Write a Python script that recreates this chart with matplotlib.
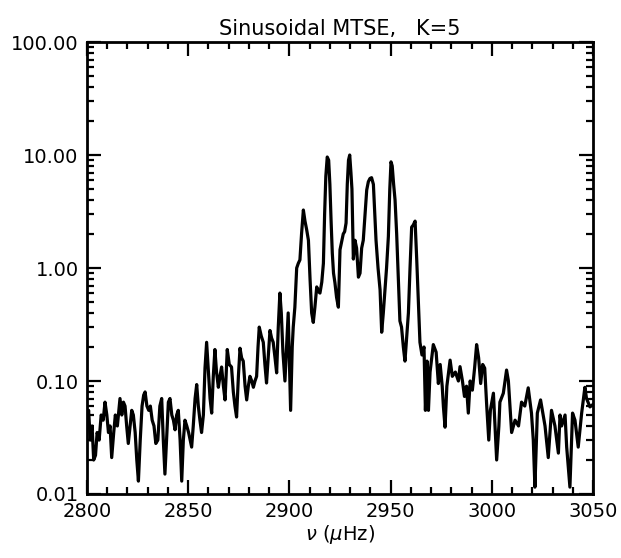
#power spectrum, sinusoidal multitaper estimate
import matplotlib
matplotlib.use('Agg')
import matplotlib.pyplot as plt
from matplotlib.ticker import FixedLocator, MultipleLocator, LogLocator, NullFormatter
import numpy as np

# frequency (muHz) and power
freq_lo = [2800.0, 2800.8, 2801.6, 2802.5, 2803.3, 2804.2, 2805.0, 2806.0, 2807.0, 2808.0,
           2808.9, 2809.8, 2810.6, 2811.4, 2812.2, 2813.2, 2814.0, 2815.0, 2816.3, 2817.2,
           2818.0, 2818.8, 2819.6, 2820.4, 2821.3, 2822.1, 2822.9, 2823.8, 2824.6, 2825.4,
           2826.3, 2827.2, 2828.0, 2828.7, 2829.6, 2830.5, 2831.3, 2832.2, 2833.1, 2834.0,
           2835.0, 2836.0, 2836.9, 2837.7, 2838.5, 2839.3, 2840.2, 2841.0, 2841.9, 2842.7,
           2843.5, 2844.3, 2845.1, 2846.0, 2846.8, 2847.6, 2848.4, 2849.3, 2850.2, 2851.0,
           2851.7, 2852.5, 2853.4, 2854.2, 2855.0, 2855.8, 2856.6, 2857.5, 2858.3, 2859.1]
pow_lo = [0.045, 0.055, 0.030, 0.040, 0.020, 0.022, 0.035, 0.030, 0.050, 0.045,
          0.065, 0.050, 0.035, 0.040, 0.021, 0.035, 0.050, 0.040, 0.070, 0.050,
          0.065, 0.060, 0.040, 0.028, 0.040, 0.055, 0.050, 0.035, 0.020, 0.013,
          0.030, 0.060, 0.075, 0.080, 0.060, 0.055, 0.060, 0.045, 0.040, 0.028,
          0.030, 0.060, 0.070, 0.030, 0.015, 0.030, 0.065, 0.070, 0.050, 0.045,
          0.037, 0.050, 0.055, 0.030, 0.013, 0.030, 0.045, 0.040, 0.035, 0.030,
          0.026, 0.040, 0.070, 0.093, 0.060, 0.045, 0.035, 0.050, 0.130, 0.220]

freq_mid = [2860.0, 2860.8, 2861.6, 2862.4, 2863.2, 2864.0, 2864.9, 2865.7, 2866.5, 2867.4,
            2868.2, 2869.3, 2870.3, 2871.4, 2872.3, 2873.1, 2873.9, 2874.8, 2875.6, 2876.4,
            2877.2, 2878.1, 2878.9, 2879.7, 2880.5, 2881.4, 2882.2, 2883.0, 2883.8, 2884.5,
            2885.1, 2886.1, 2887.1, 2887.9, 2888.7, 2889.5, 2890.4, 2891.2, 2892.0, 2892.9,
            2893.7, 2894.5, 2895.3, 2896.0, 2896.8, 2897.8, 2898.6, 2899.4, 2900.0, 2900.6,
            2901.4, 2901.9, 2902.7, 2903.6, 2904.4, 2905.2, 2906.0, 2906.9, 2907.7, 2908.5,
            2909.4, 2910.2, 2911.0, 2911.8, 2912.6, 2913.5, 2914.3, 2915.1, 2916.0, 2916.8,
            2917.4, 2918.0, 2918.7, 2919.4, 2920.0, 2920.6, 2921.2, 2921.8, 2922.5, 2923.3,
            2924.2, 2925.0, 2925.8, 2926.6, 2927.3, 2928.0, 2928.6, 2929.2, 2929.8, 2930.4,
            2930.9, 2931.6, 2932.4, 2933.2, 2934.1, 2934.9, 2935.7, 2936.5, 2937.4, 2938.2,
            2939.0, 2939.8, 2940.6, 2941.5, 2942.2, 2942.8, 2943.8, 2944.8, 2945.6, 2946.4,
            2947.2, 2948.0, 2948.9, 2949.6, 2950.2, 2950.8, 2951.5, 2952.2, 2953.0, 2953.8,
            2954.6, 2955.4, 2956.3, 2957.1, 2958.0, 2958.8, 2959.6, 2960.4, 2961.2, 2962.1,
            2962.9]
pow_mid = [0.120, 0.070, 0.052, 0.110, 0.190, 0.120, 0.088, 0.110, 0.133, 0.090,
           0.068, 0.190, 0.140, 0.133, 0.080, 0.060, 0.048, 0.110, 0.195, 0.160,
           0.150, 0.090, 0.068, 0.090, 0.110, 0.100, 0.088, 0.100, 0.110, 0.200,
           0.300, 0.250, 0.220, 0.140, 0.096, 0.160, 0.280, 0.240, 0.220, 0.160,
           0.118, 0.300, 0.600, 0.400, 0.180, 0.100, 0.200, 0.400, 0.150, 0.055,
           0.200, 0.300, 0.450, 1.000, 1.100, 1.180, 2.000, 3.260, 2.600, 2.200,
           1.760, 0.800, 0.400, 0.330, 0.450, 0.680, 0.620, 0.600, 0.750, 1.100,
           3.000, 6.500, 9.600, 9.000, 5.500, 2.600, 1.350, 0.900, 0.740, 0.550,
           0.450, 1.450, 1.700, 2.000, 2.100, 2.500, 5.500, 9.000, 10.00, 7.000,
           5.000, 1.200, 1.760, 1.500, 0.830, 0.900, 1.500, 1.760, 3.000, 4.900,
           5.800, 6.200, 6.300, 5.500, 3.000, 1.760, 1.000, 0.640, 0.270, 0.400,
           0.640, 1.000, 1.900, 5.000, 8.700, 8.000, 5.500, 4.000, 2.000, 0.800,
           0.340, 0.300, 0.200, 0.150, 0.250, 0.400, 1.000, 2.300, 2.400, 2.600,
           1.200]

freq_hi = [2963.7, 2964.5, 2965.5, 2966.5, 2967.2, 2968.0, 2968.7, 2969.5, 2970.3, 2971.1,
           2972.5, 2973.6, 2974.5, 2975.5, 2976.1, 2976.9, 2977.8, 2979.4, 2980.5, 2982.0,
           2983.5, 2984.3, 2985.5, 2986.5, 2987.5, 2988.4, 2989.3, 2990.4, 2991.5, 2992.5,
           2993.5, 2994.5, 2995.5, 2996.5, 2997.5, 2998.5, 2999.3, 3000.8, 3002.4, 3003.5,
           3004.0, 3005.7, 3007.3, 3008.2, 3009.0, 3009.8, 3011.5, 3013.2, 3014.7, 3016.3,
           3018.0, 3019.6, 3020.5, 3021.3, 3022.5, 3024.1, 3025.4, 3026.3, 3027.9, 3029.5,
           3031.2, 3032.9, 3033.7, 3034.5, 3036.2, 3037.0, 3038.6, 3039.9, 3041.1, 3042.7,
           3044.4, 3046.0, 3046.8, 3048.5, 3050.0]
pow_hi = [0.500, 0.220, 0.170, 0.200, 0.055, 0.150, 0.055, 0.120, 0.160, 0.210,
          0.180, 0.095, 0.140, 0.090, 0.059, 0.039, 0.090, 0.153, 0.110, 0.120,
          0.100, 0.134, 0.100, 0.073, 0.090, 0.052, 0.100, 0.083, 0.130, 0.210,
          0.160, 0.095, 0.140, 0.130, 0.060, 0.030, 0.055, 0.078, 0.020, 0.040,
          0.065, 0.078, 0.125, 0.100, 0.060, 0.035, 0.045, 0.040, 0.065, 0.060,
          0.087, 0.052, 0.030, 0.0115, 0.052, 0.068, 0.050, 0.040, 0.021, 0.055,
          0.040, 0.023, 0.050, 0.040, 0.050, 0.026, 0.0115, 0.052, 0.045, 0.026,
          0.052, 0.088, 0.070, 0.059, 0.062]

freq = np.array(freq_lo + freq_mid + freq_hi)
power = np.array(pow_lo + pow_mid + pow_hi)

ytick_vals = [0.01, 0.1, 1.0, 10.0, 100.0]
ytick_labels = ['0.01', '0.10', '1.00', '10.00', '100.00']
xtick_vals = [2800, 2850, 2900, 2950, 3000, 3050]

fig = plt.figure(figsize=(6.21, 5.58), dpi=100)
ax = fig.add_axes([0.1401, 0.1147, 0.8148, 0.81])

ax.plot(freq, power, color='black', lw=2.3, solid_joinstyle='round')

ax.set_yscale('log')
ax.set_xlim(2800, 3050)
ax.set_ylim(0.01, 100)

ax.yaxis.set_major_locator(FixedLocator(ytick_vals))
ax.set_yticklabels(ytick_labels)
ax.yaxis.set_minor_locator(LogLocator(base=10, subs=np.arange(2, 10)))
ax.yaxis.set_minor_formatter(NullFormatter())
ax.xaxis.set_major_locator(FixedLocator(xtick_vals))
ax.xaxis.set_minor_locator(MultipleLocator(10))

ax.tick_params(which='both', direction='in', top=True, right=True, width=1.6,
               labelsize=14, pad=6)
ax.tick_params(which='major', length=10)
ax.tick_params(which='minor', length=5)
for s in ax.spines.values():
    s.set_linewidth(2)

ax.set_title('Sinusoidal MTSE,   K=5', fontsize=15, pad=5)
ax.set_xlabel(r'$\nu$ ($\mu$Hz)', fontsize=14, labelpad=1)

plt.savefig('out.png', dpi=100)
